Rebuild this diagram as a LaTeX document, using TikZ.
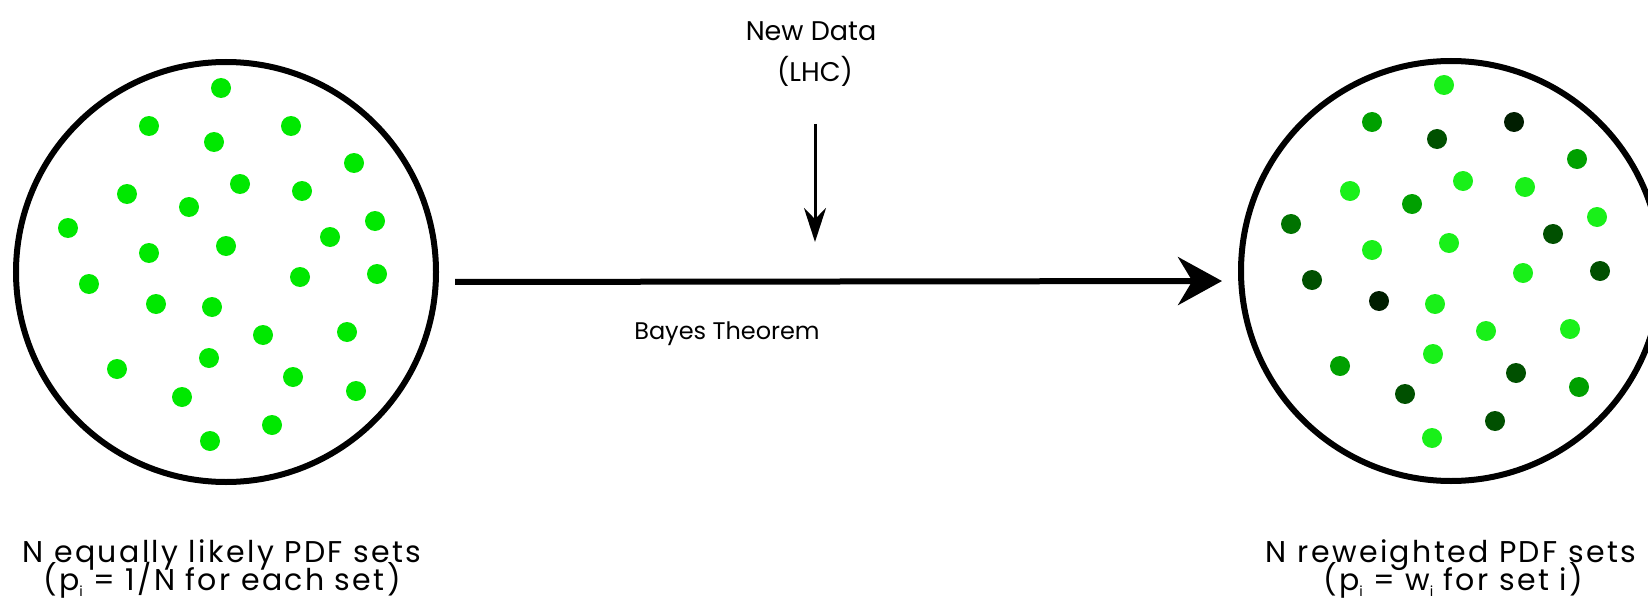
\documentclass[tikz,border=0pt]{standalone}
\usepackage{fontspec}
\setmainfont{Poppins}
\newfontfamily\capfont[LetterSpace=8]{Poppins}
\usetikzlibrary{arrows.meta,positioning}
\definecolor{priorgreen}{RGB}{0,232,0}
\definecolor{wlight}{RGB}{25,240,25}
\definecolor{wmid}{RGB}{0,160,0}
\definecolor{wmdark}{RGB}{0,115,0}
\definecolor{wdark}{RGB}{0,80,0}
\definecolor{wvdark}{RGB}{0,30,0}
\newcommand{\subi}{\raisebox{-0.4ex}{\fontsize{7}{7}\selectfont i}}

\begin{document}
\begin{tikzpicture}[x=0.5pt, y=-0.5pt,
  ensemble/.style={circle, draw, line width=3pt, minimum size=210pt, inner sep=0pt},
  txt/.style={align=center, inner sep=0pt},
  captxt/.style={anchor=base, inner sep=0pt, font=\capfont\fontsize{15}{17}\selectfont},
  bayesarrow/.style={line width=3pt, -{Stealth[length=22pt, width=24pt]}},
  dataarrow/.style={line width=1.5pt, -{Stealth[length=17pt, width=11pt]}}]

  \useasboundingbox (0,0) rectangle (1648,599);
  \clip (0,0) rectangle (1648,599);

  % Ensembles
  \node[ensemble] (prior) at (226,272) {};
  \node[ensemble] (posterior) at (1451,271) {};

  % Prior replicas
  \foreach \x/\y in {221/88, 149/126, 291/126, 214/142, 354/163, 240/184, 302/191,
    127/194, 189/207, 68/228, 375/221, 330/237, 149/253, 226/246, 89/284, 300/277,
    377/274, 156/304, 212/307, 263/335, 347/332, 209/358, 117/369, 293/377,
    182/397, 356/391, 272/425, 210/441}
    \fill[priorgreen] (\x,\y) circle[radius=5pt];

  % Reweighted replicas
  \foreach \x/\y/\c in {1444/85/wlight, 1372/122/wmid, 1514/122/wvdark, 1437/139/wdark,
    1577/159/wmid, 1463/181/wlight, 1525/187/wlight, 1350/191/wlight, 1412/204/wmid,
    1291/224/wmdark, 1597/217/wlight, 1553/234/wdark, 1372/250/wlight, 1449/243/wlight,
    1312/280/wdark, 1523/273/wlight, 1600/271/wdark, 1379/301/wvdark, 1435/304/wlight,
    1486/331/wlight, 1570/329/wlight, 1433/354/wlight, 1340/366/wmid, 1516/373/wdark,
    1405/394/wdark, 1579/387/wmid, 1495/421/wdark, 1432/438/wlight}
    \fill[\c] (\x,\y) circle[radius=5pt];

  % Update
  \draw[bayesarrow, shorten <=8pt, shorten >=8pt]
    ([yshift=-5pt]prior.east) -- ([yshift=-5pt]posterior.west);
  \node[txt, font=\fontsize{12}{13}\selectfont] (bayes) at (727,334) {Bayes Theorem};

  \node[txt, font=\fontsize{13.5}{15}\selectfont] (newdata) at (811,31) {New Data};
  \node[txt, font=\fontsize{13.5}{15}\selectfont] (lhc) at (815,71) {(LHC)};
  \coordinate (feed) at (815,124);
  \coordinate (hit) at (815,242);
  \draw[dataarrow] (feed) -- (hit);

  % Captions
  \node[captxt] (priortext) at (222,562) {N equally likely PDF sets};
  \node[captxt] (priorrate) at (222,590) {(p\subi{} = 1/N for each set)};
  \node[captxt] (posttext) at (1451,562) {N reweighted PDF sets};
  \node[captxt] (postrate) at (1453,590) {(p\subi{} = w\subi{} for set i)};
\end{tikzpicture}
\end{document}
